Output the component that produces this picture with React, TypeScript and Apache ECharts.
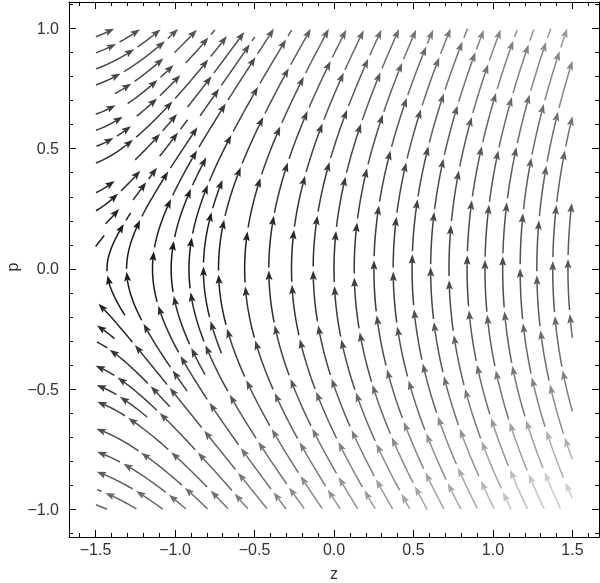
import React, { useEffect, useRef } from "react";
import * as echarts from "echarts";

// ---- axis ticks ----
const zTicks = [-1.5, -1.0, -0.5, 0.0, 0.5, 1.0, 1.5];
const pTicks = [-1.0, -0.5, 0.0, 0.5, 1.0];
const zMinorTicks = [-1.6, -1.4, -1.3, -1.2, -1.1, -0.9, -0.8, -0.7, -0.6, -0.4, -0.3, -0.2, -0.1, 0.1, 0.2, 0.3, 0.4, 0.6, 0.7, 0.8, 0.9, 1.1, 1.2, 1.3, 1.4, 1.6];
const pMinorTicks = [-1.1, -0.9, -0.8, -0.7, -0.6, -0.4, -0.3, -0.2, -0.1, 0.1, 0.2, 0.3, 0.4, 0.6, 0.7, 0.8, 0.9, 1.1];

// ---- plotted region ----
const zRange = [-1.5, 1.5];
const pRange = [-1.0, 1.0];
const zView = [-1.667, 1.667];
const pView = [-1.115, 1.11];

// ---- vector field read from the stream directions:
// dz/dt = p, dp/dt = c0 + c1 z + c2 z^2 + c3 p^2 + c4 (z + 1.5) p
const fieldCoef = [0.95, 0.477, -0.07, 0.17, 0.082];

// ---- stream shading (gray level 0 = black, 1 = white) ----
const shadeZ = [-1.5, -0.75, 0, 0.75, 1.5];
const shadeP = [1.0, 0.5, 0.0, -0.5, -1.0];
const shadeRow1 = [0.33, 0.33, 0.42, 0.5, 0.63];
const shadeRow2 = [0.2, 0.2, 0.26, 0.33, 0.42];
const shadeRow3 = [0.07, 0.1, 0.18, 0.25, 0.33];
const shadeRow4 = [0.22, 0.28, 0.32, 0.4, 0.5];
const shadeRow5 = [0.4, 0.47, 0.6, 0.7, 0.88];
const shadeRows = [shadeRow1, shadeRow2, shadeRow3, shadeRow4, shadeRow5];

type Piece = { pts: number[][]; arrow: boolean; color: string; mz: number; mp: number };

function shade(z: number, p: number): string {
  const fz = Math.max(0, Math.min(4, ((z - shadeZ[0]) / (shadeZ[4] - shadeZ[0])) * 4));
  const fp = Math.max(0, Math.min(4, ((shadeP[0] - p) / (shadeP[0] - shadeP[4])) * 4));
  const i = Math.min(3, Math.floor(fz));
  const j = Math.min(3, Math.floor(fp));
  const tz = fz - i;
  const tp = fp - j;
  const a = shadeRows[j][i] * (1 - tz) + shadeRows[j][i + 1] * tz;
  const b = shadeRows[j + 1][i] * (1 - tz) + shadeRows[j + 1][i + 1] * tz;
  const g = Math.round(255 * (a * (1 - tp) + b * tp));
  return `rgb(${g},${g},${g})`;
}

function buildPieces(): Piece[] {
  const SX = 159;
  const SY = 240;
  const W = (zRange[1] - zRange[0]) * SX;
  const H = (pRange[1] - pRange[0]) * SY;
  const [c0, c1, c2, c3, c4] = fieldCoef;
  const vel = (X: number, Y: number): [number, number] => {
    const z = zRange[0] + X / SX;
    const p = pRange[0] + Y / SY;
    const vx = p * SX;
    const vy = (c0 + c1 * z + c2 * z * z + c3 * p * p + c4 * (z + 1.5) * p) * SY;
    const n = Math.hypot(vx, vy) || 1;
    return [vx / n, vy / n];
  };
  const DSEP = 15;
  const DTEST = 11.5;
  const STEP = 1;
  const cols = Math.ceil(W / DSEP) + 2;
  const rows = Math.ceil(H / DSEP) + 2;
  const cells: number[][] = [];
  for (let k = 0; k < cols * rows; k++) cells.push([]);
  const near = (x: number, y: number, d: number) => {
    const ci = Math.floor(x / DSEP);
    const cj = Math.floor(y / DSEP);
    const r = Math.ceil(d / DSEP);
    const d2 = d * d;
    for (let a = ci - r; a <= ci + r; a++) {
      if (a < 0 || a >= cols) continue;
      for (let b = cj - r; b <= cj + r; b++) {
        if (b < 0 || b >= rows) continue;
        const c = cells[b * cols + a];
        for (let k = 0; k < c.length; k += 2) {
          const dx = c[k] - x;
          const dy = c[k + 1] - y;
          if (dx * dx + dy * dy < d2) return true;
        }
      }
    }
    return false;
  };
  const addPts = (L: number[][]) => {
    for (const [x, y] of L) {
      const a = Math.floor(x / DSEP);
      const b = Math.floor(y / DSEP);
      if (a >= 0 && a < cols && b >= 0 && b < rows) cells[b * cols + a].push(x, y);
    }
  };
  const trace = (x0: number, y0: number, sign: number) => {
    const pts: number[][] = [];
    let x = x0;
    let y = y0;
    for (let i = 0; i < 3000; i++) {
      const [ux, uy] = vel(x, y);
      const [vx, vy] = vel(x + (sign * ux * STEP) / 2, y + (sign * uy * STEP) / 2);
      const nx = x + sign * vx * STEP;
      const ny = y + sign * vy * STEP;
      if (nx < 0 || nx > W || ny < 0 || ny > H) break;
      if (near(nx, ny, DTEST)) break;
      pts.push([nx, ny]);
      x = nx;
      y = ny;
    }
    return pts;
  };
  const lines: number[][][] = [];
  const queue: number[][][] = [];
  const trySeed = (x: number, y: number) => {
    if (x < 0 || x > W || y < 0 || y > H) return;
    if (near(x, y, DSEP * 0.95)) return;
    const back = trace(x, y, -1).reverse();
    const fwd = trace(x, y, 1);
    const L = [...back, [x, y], ...fwd];
    if (L.length < 12) return;
    addPts(L);
    lines.push(L);
    queue.push(L);
  };
  trySeed(W * 0.5, H * 0.5);
  while (queue.length) {
    const L = queue.shift() as number[][];
    for (let k = 0; k < L.length; k += 3) {
      const [x, y] = L[k];
      const [ux, uy] = vel(x, y);
      trySeed(x - uy * DSEP, y + ux * DSEP);
      trySeed(x + uy * DSEP, y - ux * DSEP);
    }
  }
  for (let y = 2; y < H; y += 5) for (let x = 2; x < W; x += 5) trySeed(x, y);

  const SEG = 55;
  const GAP = 3;
  const pieces: Piece[] = [];
  lines.forEach((L, li) => {
    const cum: number[] = [0];
    for (let k = 1; k < L.length; k++) cum.push(cum[k - 1] + Math.hypot(L[k][0] - L[k - 1][0], L[k][1] - L[k - 1][1]));
    const total = cum[cum.length - 1];
    const phase = 18 + ((li * 37) % 29);
    const bounds: number[] = [0];
    for (let s = phase; s < total; s += SEG) bounds.push(s);
    bounds.push(total);
    for (let b = 0; b < bounds.length - 1; b++) {
      const s0 = b === 0 ? 0 : bounds[b] + GAP;
      const s1 = bounds[b + 1];
      if (s1 - s0 < 4) continue;
      const pts: number[][] = [];
      for (let k = 0; k < L.length; k++) {
        if (cum[k] >= s0 && cum[k] <= s1 && (pts.length === 0 || k % 2 === 0 || cum[k + 1] > s1)) {
          pts.push([zRange[0] + L[k][0] / SX, pRange[0] + L[k][1] / SY]);
        }
      }
      if (pts.length < 2) continue;
      const m = pts[Math.floor(pts.length / 2)];
      pieces.push({ pts, arrow: s1 - s0 >= 14, color: shade(m[0], m[1]), mz: m[0], mp: m[1] });
    }
  });
  return pieces;
}

const fmt = (v: number) => (v < 0 ? "\u2212" : "") + Math.abs(v).toFixed(1);
const FONT = "'Liberation Sans', Arial, sans-serif";

export default function App() {
  const ref = useRef<HTMLDivElement>(null);
  useEffect(() => {
    if (!ref.current) return;
    const chart = echarts.init(ref.current, null, { renderer: "svg" });
    const pieces = buildPieces();
    const ARROW_LEN = 9.5;
    const HW = 3.5;
    const axisCommon = { type: "value" as const, splitLine: { show: false } };
    const lineStyle = { color: "#000", width: 1 };
    const xAxes = [
      { ...axisCommon, min: zView[0], max: zView[1], position: "bottom", axisLine: { show: true, onZero: false, lineStyle }, axisTick: { show: true, inside: true, length: 7, customValues: zTicks, lineStyle }, axisLabel: { show: true, customValues: zTicks, formatter: fmt, fontSize: 16, color: "#333", fontFamily: FONT, margin: 4 } },
      { ...axisCommon, min: zView[0], max: zView[1], position: "bottom", axisLine: { show: false, onZero: false }, axisTick: { show: true, inside: true, length: 4, customValues: zMinorTicks, lineStyle }, axisLabel: { show: false } },
      { ...axisCommon, min: zView[0], max: zView[1], position: "top", axisLine: { show: true, onZero: false, lineStyle }, axisTick: { show: true, inside: true, length: 7, customValues: zTicks, lineStyle }, axisLabel: { show: false } },
      { ...axisCommon, min: zView[0], max: zView[1], position: "top", axisLine: { show: false, onZero: false }, axisTick: { show: true, inside: true, length: 4, customValues: zMinorTicks, lineStyle }, axisLabel: { show: false } },
    ];
    const yAxes = [
      { ...axisCommon, min: pView[0], max: pView[1], position: "left", axisLine: { show: true, onZero: false, lineStyle }, axisTick: { show: true, inside: true, length: 7, customValues: pTicks, lineStyle }, axisLabel: { show: true, customValues: pTicks, formatter: fmt, fontSize: 16, color: "#333", fontFamily: FONT, margin: 10 } },
      { ...axisCommon, min: pView[0], max: pView[1], position: "left", axisLine: { show: false, onZero: false }, axisTick: { show: true, inside: true, length: 4, customValues: pMinorTicks, lineStyle }, axisLabel: { show: false } },
      { ...axisCommon, min: pView[0], max: pView[1], position: "right", axisLine: { show: true, onZero: false, lineStyle }, axisTick: { show: true, inside: true, length: 7, customValues: pTicks, lineStyle }, axisLabel: { show: false } },
      { ...axisCommon, min: pView[0], max: pView[1], position: "right", axisLine: { show: false, onZero: false }, axisTick: { show: true, inside: true, length: 4, customValues: pMinorTicks, lineStyle }, axisLabel: { show: false } },
    ];
    chart.setOption({
      animation: false,
      grid: { left: 69, right: 1, top: 2, bottom: 46, containLabel: false, outerBoundsMode: "none" },
      xAxis: xAxes,
      yAxis: yAxes,
      graphic: [
        { type: "text", x: 334, y: 573, style: { text: "z", fontSize: 16, fontFamily: FONT, fill: "#333", align: "center", verticalAlign: "middle" } },
        { type: "text", x: 12, y: 267, rotation: Math.PI / 2, style: { text: "p", fontSize: 16, fontFamily: FONT, fill: "#333", align: "center", verticalAlign: "middle" } },
      ],
      series: [
        {
          type: "custom",
          xAxisIndex: 0,
          yAxisIndex: 0,
          silent: true,
          clip: false,
          encode: { x: 0, y: 1 },
          data: pieces.map((pc, i) => [pc.mz, pc.mp, i]),
          renderItem: (_params: any, api: any) => {
            const pc = pieces[api.value(2)];
            const pts: number[][] = pc.pts.map((q) => api.coord(q));
            const n = pts.length;
            const children: any[] = [];
            let linePts = pts;
            if (pc.arrow && n >= 3) {
              const tip = pts[n - 1];
              let j = n - 2;
              while (j > 0 && Math.hypot(tip[0] - pts[j][0], tip[1] - pts[j][1]) < ARROW_LEN) j--;
              let dx = tip[0] - pts[j][0];
              let dy = tip[1] - pts[j][1];
              const L = Math.hypot(dx, dy) || 1;
              dx /= L;
              dy /= L;
              const base = [tip[0] - dx * ARROW_LEN, tip[1] - dy * ARROW_LEN];
              const notch = [tip[0] - dx * ARROW_LEN * 0.82, tip[1] - dy * ARROW_LEN * 0.82];
              let k = n - 1;
              while (k > 0 && Math.hypot(tip[0] - pts[k][0], tip[1] - pts[k][1]) < ARROW_LEN * 0.8) k--;
              linePts = pts.slice(0, k + 1).concat([notch]);
              children.push({
                type: "polygon",
                shape: { points: [tip, [base[0] - dy * HW, base[1] + dx * HW], notch, [base[0] + dy * HW, base[1] - dx * HW]] },
                style: { fill: pc.color, stroke: null },
              });
            }
            children.unshift({
              type: "polyline",
              shape: { points: linePts },
              style: { stroke: pc.color, lineWidth: 1.5, fill: null },
            });
            return { type: "group", children };
          },
        },
      ],
    });
    return () => chart.dispose();
  }, []);
  return <div ref={ref} style={{ position: "fixed", left: 0, top: 0, width: 600, height: 583 }} />;
}
